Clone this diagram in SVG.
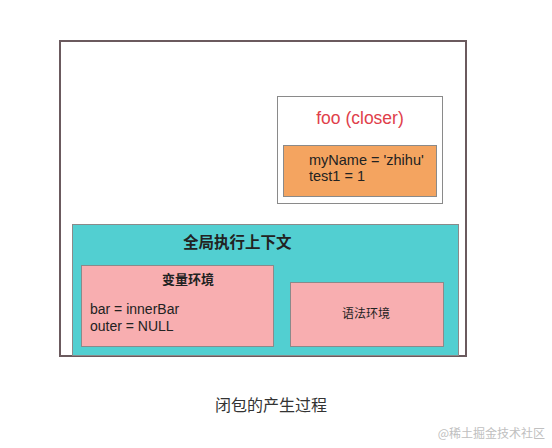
<svg xmlns="http://www.w3.org/2000/svg" width="552" height="448" viewBox="0 0 552 448">
<style>
.box{stroke:#8a8a8a;stroke-width:1}
.t{font-family:"Liberation Sans","Noto Sans CJK SC",sans-serif;fill:#222}
.c{font-family:"Noto Sans CJK SC","Liberation Sans",sans-serif;fill:#222}
</style>
<rect width="552" height="448" fill="#ffffff"/>
<g id="outer">
<rect x="60" y="41" width="406" height="315" fill="#ffffff" stroke="#6b5a5e" stroke-width="2"/>
</g>
<g id="foo">
<rect class="box" x="277.5" y="96.5" width="165" height="107" fill="#ffffff"/>
<text x="360" y="124" text-anchor="middle" font-family="Liberation Sans,sans-serif" font-size="17.5" fill="#e0404a">foo (closer)</text>
<rect class="box" x="283.5" y="145.5" width="153" height="51" fill="#f4a460"/>
<text class="t" x="309" y="165" font-size="14.5">myName = 'zhihu'</text>
<text class="t" x="309" y="181" font-size="14.5">test1 = 1</text>
</g>
<g id="global">
<rect class="box" x="72.5" y="224.5" width="386" height="131" fill="#52cfd1"/>
<text class="c" x="183" y="248" font-size="15.5" font-weight="bold">全局执行上下文</text>
</g>
<g id="varenv">
<rect class="box" x="81.5" y="265.5" width="192" height="81" fill="#f8aeb0"/>
<text class="c" x="188" y="284" font-size="13" font-weight="bold" text-anchor="middle">变量环境</text>
<text class="t" x="90" y="314" font-size="14">bar = innerBar</text>
<text class="t" x="90" y="331" font-size="14">outer = NULL</text>
</g>
<g id="lexenv">
<rect class="box" x="290.5" y="282.5" width="153" height="64" fill="#f8aeb0"/>
<text class="c" x="366" y="318" font-size="12" text-anchor="middle">语法环境</text>
</g>
<g id="connectors"></g>
<text x="271" y="411" text-anchor="middle" font-family="Noto Sans CJK SC,sans-serif" font-size="16" fill="#333">闭包的产生过程</text>
<text x="545" y="438" text-anchor="end" font-family="Noto Sans CJK SC,sans-serif" font-size="12" fill="#c0c0c0">@稀土掘金技术社区</text>
</svg>
